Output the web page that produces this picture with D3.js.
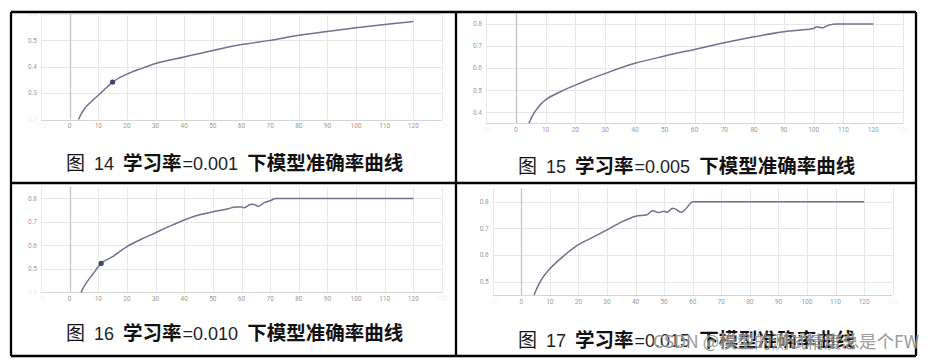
<!DOCTYPE html>
<html><head><meta charset="utf-8">
<script src="https://cdn.jsdelivr.net/npm/d3@7/dist/d3.min.js"></script>
<style>
html,body{margin:0;padding:0;background:#fff;}
svg{display:block;}
</style></head>
<body>
<script>
// ---------- DATA ----------
const xTicks = [-10,0,10,20,30,40,50,60,70,80,90,100,110,120,130];

const epochs14 = [3.1,4,5,7,10,12,15,20,25,30,40,50,60,70,80,90,100,110,120];
const acc14    = [0.2,0.22,0.238,0.262,0.292,0.312,0.342,0.372,0.393,0.412,0.437,0.462,0.484,0.500,0.519,0.534,0.548,0.560,0.572];
const yTicks14 = [0.2,0.3,0.4,0.5,0.6];
const marker14 = [15,0.342];

const epochs15 = [4.4,5,6,7.2,8.5,10,15,20,25,30,40,50,60,70,80,90,95,100,101,103,105,108,110,115,120];
const acc15    = [0.35,0.368,0.394,0.417,0.438,0.456,0.493,0.523,0.551,0.576,0.622,0.655,0.685,0.715,0.742,0.765,0.772,0.780,0.788,0.783,0.795,0.800,0.800,0.800,0.800];
const yTicks15 = [0.4,0.5,0.6,0.7,0.8];

const epochs16 = [4,5,6.5,8,11,15,20,25,30,35,40,45,50,55,58,60,61,63,64,66,68,70,72,80,90,100,110,120];
const acc16    = [0.4,0.424,0.452,0.476,0.523,0.552,0.595,0.626,0.654,0.682,0.708,0.729,0.743,0.755,0.764,0.764,0.760,0.774,0.775,0.767,0.782,0.790,0.800,0.800,0.800,0.800,0.800,0.800];
const yTicks16 = [0.4,0.5,0.6,0.7,0.8];
const marker16 = [11,0.523];

const epochs17 = [4.5,5,6,7.5,10,15,20,25,30,35,40,44,46,48,50,51,53,54,56,57,59,60,70,80,90,100,110,120];
const acc17    = [0.45,0.464,0.487,0.515,0.548,0.598,0.639,0.666,0.694,0.723,0.745,0.751,0.766,0.759,0.764,0.760,0.775,0.772,0.760,0.766,0.791,0.800,0.800,0.800,0.800,0.800,0.800,0.800];
const yTicks17 = [0.5,0.6,0.7,0.8];

const captionNums = ["14","15","16","17"];
const captionRates = ["0.001","0.005","0.010","0.015"];
const watermark = "CSDN @模型的测试精度总是个FW";

// ---------- LAYOUT ----------
const W = 936, H = 360;
const svg = d3.select("body").append("svg").attr("width", W).attr("height", H);

const panels = [
  {ep: epochs14, acc: acc14, yt: yTicks14, yd:[0.2,0.6], box:[41,442,14,119.5], marker: marker14, faintY:[0.2,0.6], cap:[66,170]},
  {ep: epochs15, acc: acc15, yt: yTicks15, yd:[0.35,0.85], box:[486,903,13,123.3], marker: null, faintY:[], cap:[518,173]},
  {ep: epochs16, acc: acc16, yt: yTicks16, yd:[0.4,0.85], box:[41,442,186.7,292.3], marker: marker16, faintY:[0.4], cap:[66,340]},
  {ep: epochs17, acc: acc17, yt: yTicks17, yd:[0.45,0.85], box:[492.7,892.7,188.3,295], marker: null, faintY:[], cap:[518,347]}
];

const tickFont = "Roboto, 'DejaVu Sans', sans-serif";

panels.forEach((p, i) => {
  const [l, r, t, b] = p.box;
  const x = d3.scaleLinear().domain([-10,130]).range([l, r]);
  const y = d3.scaleLinear().domain(p.yd).range([b, t]);
  const g = svg.append("g");

  const yAll = p.yt.filter(v => !p.faintY.includes(v));
  g.selectAll(".hg").data(p.yt).join("line")
    .attr("x1", l).attr("x2", r)
    .attr("y1", d => Math.round(y(d)) + 0.5).attr("y2", d => Math.round(y(d)) + 0.5)
    .attr("stroke", "#e6e6e6").attr("stroke-width", 1);
  g.selectAll(".vg").data(xTicks).join("line")
    .attr("x1", d => Math.round(x(d)) + 0.5).attr("x2", d => Math.round(x(d)) + 0.5)
    .attr("y1", t).attr("y2", b)
    .attr("stroke", d => d === 0 ? "#c4c4c4" : "#e8e8e8")
    .attr("stroke-width", d => d === 0 ? 1.3 : 1);
  g.append("line").attr("x1", l).attr("x2", r)
    .attr("y1", Math.round(b) + 0.5).attr("y2", Math.round(b) + 0.5)
    .attr("stroke", "#d6d6d6");

  g.selectAll(".xl").data(xTicks).join("text")
    .attr("x", d => x(d)).attr("y", b + 8.5)
    .attr("text-anchor", "middle")
    .attr("font-family", tickFont)
    .attr("font-size", 6.5)
    .attr("fill", "#9a9a9a")
    .attr("opacity", d => (d === -10 || d === 130) ? 0.12 : 1)
    .text(d => d);
  g.selectAll(".yl").data(yAll).join("text")
    .attr("x", l - 4).attr("y", d => y(d) + 2.3)
    .attr("text-anchor", "end")
    .attr("font-family", tickFont)
    .attr("font-size", 6.5)
    .attr("fill", "#9a9a9a")
    .text(d => d.toFixed(1));
  g.selectAll(".ylf").data(p.faintY).join("text")
    .attr("x", l - 4).attr("y", d => y(d) + 2.3)
    .attr("text-anchor", "end")
    .attr("font-family", tickFont)
    .attr("font-size", 6.5)
    .attr("fill", "#9a9a9a").attr("opacity", 0.2)
    .text(d => d.toFixed(1));

  const pts = p.ep.map((e, k) => [e, p.acc[k]]);
  const line = d3.line().x(d => x(d[0])).y(d => y(d[1])).curve(d3.curveMonotoneX);
  g.append("path").datum(pts).attr("d", line)
    .attr("fill", "none").attr("stroke", "#6e7290").attr("stroke-width", 1.5);
  if (p.marker) {
    g.append("circle").attr("cx", x(p.marker[0])).attr("cy", y(p.marker[1]))
      .attr("r", 2.6).attr("fill", "#3e4866");
  }

  // caption
  const cjk = "'Noto Sans CJK SC', sans-serif";
  const lat = "'Liberation Sans', Arial, sans-serif";
  const cap = svg.append("text")
    .attr("x", p.cap[0]).attr("y", p.cap[1])
    .attr("fill", "#111");
  cap.append("tspan").attr("font-family", cjk).attr("font-size", 19).attr("font-weight", 400).text("图");
  cap.append("tspan").attr("font-family", lat).attr("font-size", 18).attr("fill", "#222").attr("dx", 9).text(captionNums[i]);
  cap.append("tspan").attr("font-family", cjk).attr("font-size", 19.5).attr("font-weight", 700).attr("dx", 9).text("学习率");
  cap.append("tspan").attr("font-family", lat).attr("font-size", 18).attr("fill", "#222").attr("dx", 1).text("=" + captionRates[i]);
  cap.append("tspan").attr("font-family", cjk).attr("font-size", 19.5).attr("font-weight", 700).attr("dx", 9).text("下模型准确率曲线");
});

// table borders
const bc = "#000", bw = 2.3;
[[11,12,916,12],[11,356,916,356],[11,12,11,356],[916,12,916,356],[456,12,456,356],[11,183,916,183]]
  .forEach(s => svg.append("line").attr("x1", s[0]).attr("y1", s[1]).attr("x2", s[2]).attr("y2", s[3])
    .attr("stroke", bc).attr("stroke-width", bw));

// watermark
svg.append("text").attr("x", 653).attr("y", 348)
  .attr("font-family", "'Noto Sans CJK SC', sans-serif").attr("font-size", 17.5)
  .attr("textLength", 266).attr("lengthAdjust", "spacing")
  .attr("fill", "#8a8a8a").attr("stroke", "#fff").attr("stroke-width", 0.6).attr("paint-order", "stroke")
  .attr("opacity", 0.85)
  .text(watermark);
</script>
</body></html>
